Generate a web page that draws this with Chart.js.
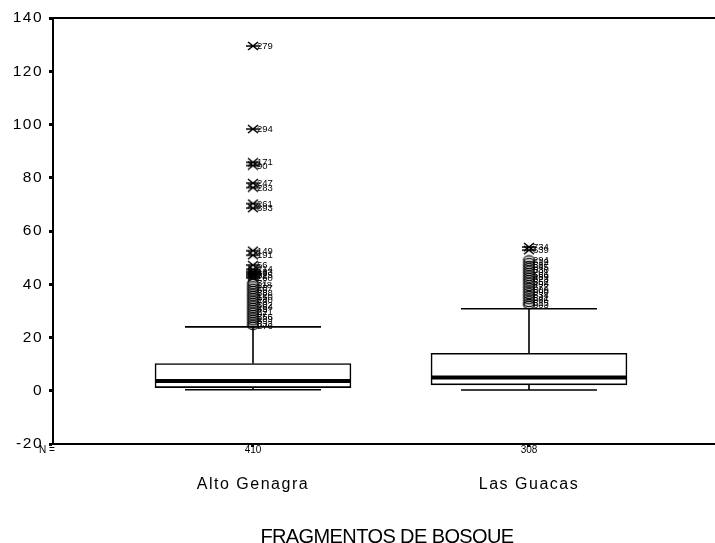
<!DOCTYPE html>
<html>
<head>
<meta charset="utf-8">
<script src="https://cdn.jsdelivr.net/npm/chart.js@4/dist/chart.umd.min.js"></script>
<style>
  html, body { margin: 0; padding: 0; background: #fff; overflow: hidden; }
  #wrap { width: 715px; height: 543px; }
  #chart { display: block; }
</style>
</head>
<body>
<div id="wrap"><canvas id="chart" width="715" height="543"></canvas></div>
<script>
// Groups and their sample sizes
const categories = ['Alto Genagra', 'Las Guacas'];
const sampleSizes = [410, 308];

// Five-number summaries per group
const lowerWhisker = [0.4, 0.3];
const q1 = [1.2, 2.2];
const median = [3.7, 5.0];
const q3 = [10.2, 14.1];
const upperWhisker = [24.0, 30.8];

// Y axis ticks
const yTicks = [-20, 0, 20, 40, 60, 80, 100, 120, 140];

// Outliers (circles) and extremes (asterisks), with case numbers
const altoOutliers = [40.5, 39.6, 38.7, 37.8, 36.9, 36.0, 35.1, 34.2, 33.3, 32.4, 31.5, 30.6, 29.7, 28.8, 27.9, 27.0, 26.1, 25.2, 24.4];
const altoOutlierCases = ['31', '118', '207', '66', '388', '12', '150', '240', '78', '302', '164', '45', '221', '97', '356', '189', '8', '333', '276'];
const altoExtremes = [129.5, 98.3, 85.8, 84.6, 78.0, 76.3, 70.3, 68.6, 52.6, 50.9, 47.2, 45.6, 44.8, 44.2, 43.6, 43.0, 42.4];
const altoExtremeCases = ['279', '294', '171', '90', '247', '283', '261', '393', '149', '191', '56', '214', '133', '49', '325', '72', '260'];

const guacasOutliers = [49.3, 48.3, 47.3, 46.4, 45.5, 44.6, 43.7, 42.8, 41.9, 41.0, 40.0, 39.0, 38.0, 37.0, 36.0, 35.0, 34.0, 33.0, 32.2];
const guacasOutlierCases = ['294', '612', '587', '645', '530', '701', '566', '489', '623', '552', '498', '677', '509', '590', '634', '541', '686', '515', '603'];
const guacasExtremes = [54.0, 52.8];
const guacasExtremeCases = ['734', '639'];

const FONT = "'Liberation Sans', Arial, sans-serif";
const AXIS_TITLE = 'FRAGMENTOS DE BOSQUE';

// Marker glyphs: open ellipse for outliers, asterisk for extremes
function makeCircleMark() {
  const c = document.createElement('canvas');
  c.width = 13; c.height = 10;
  const g = c.getContext('2d');
  g.strokeStyle = '#000'; g.lineWidth = 1.3;
  g.beginPath(); g.ellipse(6.5, 5, 5.2, 3.6, 0, 0, Math.PI * 2); g.stroke();
  return c;
}
function makeStarMark() {
  const c = document.createElement('canvas');
  c.width = 14; c.height = 10;
  const g = c.getContext('2d');
  g.strokeStyle = '#000'; g.lineWidth = 1.6;
  g.beginPath();
  g.moveTo(2, 1); g.lineTo(12, 9);
  g.moveTo(2, 9); g.lineTo(12, 1);
  g.moveTo(0, 5); g.lineTo(14, 5);
  g.stroke();
  return c;
}
const circleMark = makeCircleMark();
const starMark = makeStarMark();

function points(groupIndex, values, cases) {
  return values.map((v, i) => ({ x: groupIndex + 1, y: v, label: cases[i] }));
}

// Whiskers, caps, medians, frame line and labels drawn on top of the boxes
const boxplotExtras = {
  id: 'boxplotExtras',
  beforeDraw(chart) {
    chart.ctx.letterSpacing = '1.5px';
  },
  afterDatasetsDraw(chart) {
    const { ctx, scales: { x, y } } = chart;
    const boxHalf = 98;
    const capHalf = 68;
    ctx.save();
    ctx.strokeStyle = '#000';
    categories.forEach((_, i) => {
      const cx = x.getPixelForValue(i + 1);
      // whiskers
      ctx.lineWidth = 1.6;
      ctx.beginPath();
      ctx.moveTo(cx, y.getPixelForValue(q3[i]));
      ctx.lineTo(cx, y.getPixelForValue(upperWhisker[i]));
      ctx.moveTo(cx, y.getPixelForValue(q1[i]));
      ctx.lineTo(cx, y.getPixelForValue(lowerWhisker[i]));
      ctx.stroke();
      // caps
      ctx.beginPath();
      ctx.moveTo(cx - capHalf, y.getPixelForValue(upperWhisker[i]));
      ctx.lineTo(cx + capHalf, y.getPixelForValue(upperWhisker[i]));
      ctx.moveTo(cx - capHalf, y.getPixelForValue(lowerWhisker[i]));
      ctx.lineTo(cx + capHalf, y.getPixelForValue(lowerWhisker[i]));
      ctx.stroke();
      // median
      ctx.lineWidth = 4;
      ctx.beginPath();
      ctx.moveTo(cx - boxHalf, y.getPixelForValue(median[i]));
      ctx.lineTo(cx + boxHalf, y.getPixelForValue(median[i]));
      ctx.stroke();
    });

    // case-number labels beside outliers and extremes
    ctx.letterSpacing = '0px';
    ctx.fillStyle = '#000';
    ctx.font = '9.5px ' + FONT;
    ctx.textAlign = 'left';
    ctx.textBaseline = 'middle';
    chart.data.datasets.forEach((ds, di) => {
      if (ds.type !== 'scatter') return;
      const meta = chart.getDatasetMeta(di);
      meta.data.forEach((pt, pi) => {
        ctx.fillText(ds.data[pi].label, pt.x + 4, pt.y + 0.5);
      });
    });
    ctx.restore();
  },
  afterDraw(chart) {
    const { ctx, chartArea, scales: { x } } = chart;
    ctx.save();
    // top frame line
    ctx.strokeStyle = '#000';
    ctx.lineWidth = 2;
    ctx.beginPath();
    ctx.moveTo(chartArea.left, chartArea.top);
    ctx.lineTo(chartArea.right, chartArea.top);
    ctx.stroke();
    // sample size row
    ctx.letterSpacing = '0px';
    ctx.fillStyle = '#000';
    ctx.font = '10px ' + FONT;
    ctx.textBaseline = 'middle';
    ctx.textAlign = 'center';
    ctx.fillText('N =', 47, chartArea.bottom + 6);
    sampleSizes.forEach((n, i) => {
      ctx.fillText(String(n), x.getPixelForValue(i + 1), chartArea.bottom + 6);
    });
    // axis title, set tight
    ctx.letterSpacing = '-0.6px';
    ctx.font = '20px ' + FONT;
    ctx.fillText(AXIS_TITLE, 387, x.bottom - 6);
    ctx.restore();
  }
};

new Chart(document.getElementById('chart'), {
  type: 'bar',
  data: {
    datasets: [
      {
        type: 'bar',
        data: categories.map((_, i) => ({ x: i + 1, y: [q1[i], q3[i]] })),
        backgroundColor: '#fff',
        borderColor: '#000',
        borderWidth: 1.6,
        borderSkipped: false,
        barThickness: 196,
        order: 2
      },
      {
        type: 'scatter',
        data: points(0, altoOutliers, altoOutlierCases).concat(points(1, guacasOutliers, guacasOutlierCases)),
        pointStyle: circleMark,
        pointRadius: 5,
        order: 1
      },
      {
        type: 'scatter',
        data: points(0, altoExtremes, altoExtremeCases).concat(points(1, guacasExtremes, guacasExtremeCases)),
        pointStyle: starMark,
        pointRadius: 5,
        order: 0
      }
    ]
  },
  options: {
    responsive: false,
    animation: false,
    layout: { autoPadding: false, padding: { top: 18, right: 0, left: 0, bottom: 0 } },
    plugins: { legend: { display: false }, tooltip: { enabled: false } },
    scales: {
      x: {
        type: 'linear',
        offset: false,
        min: 0.2754,
        max: 2.6739,
        afterBuildTicks(scale) { scale.ticks = [{ value: 1 }, { value: 2 }]; },
        afterFit(scale) {
          scale.height = 99;
          scale.paddingLeft = 0;
          scale.paddingRight = 0;
        },
        ticks: {
          callback: (v) => categories[Math.round(v) - 1],
          color: '#000',
          font: { family: FONT, size: 16 },
          padding: 28,
          maxRotation: 0
        },
        grid: { offset: false, drawOnChartArea: false, drawTicks: true, tickLength: 3, tickWidth: 3, tickColor: '#000' },
        border: { color: '#000', width: 2 }
      },
      y: {
        min: -20,
        max: 140,
        afterBuildTicks(scale) { scale.ticks = yTicks.map(v => ({ value: v })); },
        afterFit(scale) { scale.width = 53; },
        ticks: {
          color: '#000',
          font: { family: FONT, size: 15.5 },
          padding: 6
        },
        grid: { drawOnChartArea: false, drawTicks: true, tickLength: 4, tickWidth: 3, tickColor: '#000' },
        border: { color: '#000', width: 2 }
      }
    }
  },
  plugins: [boxplotExtras]
});
</script>
</body>
</html>
